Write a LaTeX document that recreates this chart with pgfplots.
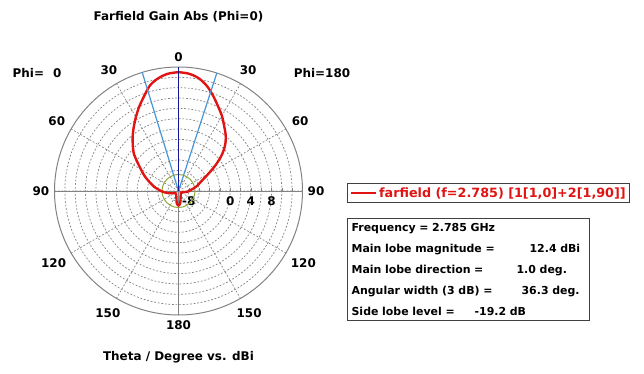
\documentclass[border=0pt]{standalone}
\usepackage{fontspec}
\setmainfont{DejaVu Sans}
\usepackage{pgfplots}
\pgfplotsset{compat=1.18}
\usepgfplotslibrary{polar}
\definecolor{cstred}{RGB}{225,20,20}
\definecolor{cstnavy}{RGB}{20,20,150}
\definecolor{cstlblue}{RGB}{70,150,215}
\definecolor{cstgreen}{RGB}{140,170,60}
\definecolor{gridgray}{RGB}{130,130,130}
\begin{document}
\begin{tikzpicture}
\useasboundingbox (-178.5bp,-183bp) rectangle (465.5bp,191bp);
\begin{polaraxis}[
  at={(0,0)}, anchor=center,
  scale only axis, width=248bp, height=248bp,
  ymin=0, ymax=24,
  xtick={0,30,...,330},
  xticklabels={90,60,30,0,30,60,90,120,150,180,150,120},
  ytick={2,4,...,22},
  yticklabels={-8,{},{},{},0,{},4,{},8,{},{}},
  xticklabel style={font=\fontsize{12}{14}\selectfont\bfseries, inner sep=5bp},
  yticklabel style={font=\fontsize{12}{14}\selectfont\bfseries, anchor=north, yshift=-2bp},
  axis line style={gridgray, line width=1bp},
  grid=major,
  major grid style={gridgray, dash pattern=on 1.8bp off 1.8bp, line width=0.7bp},
  xtick style={draw=none},
  ytick style={gridgray},
  major tick length=3bp,
  legend style={at={(axis description cs:1.18,0.532)}, anchor=north west,
    draw=black!75, line width=1.2bp, font=\fontsize{12.8}{14}\selectfont\bfseries,
    text=cstred, inner sep=2bp},
  legend image code/.code={\draw[#1] (0bp,0bp) -- (25bp,0bp);},
]
\addplot[gridgray, line width=1bp, forget plot] coordinates {(0,24) (180,24)};
\addplot[gridgray, line width=1bp, forget plot] coordinates {(90,24) (270,24)};
\addplot[cstgreen, line width=1bp, smooth, forget plot] coordinates {
(0,3.2)(15,3.2)(30,3.2)(45,3.2)(60,3.2)(75,3.2)(90,3.2)(105,3.2)(120,3.2)(135,3.2)(150,3.2)(165,3.2)
(180,3.2)(195,3.2)(210,3.2)(225,3.2)(240,3.2)(255,3.2)(270,3.2)(285,3.2)(300,3.2)(315,3.2)(330,3.2)(345,3.2)(360,3.2)};
\addplot[cstred, line width=2.4bp, smooth] coordinates {
(90,23.0)(95,22.8)(100,22.2)(105,21.2)(110,19.5)(115,18.0)(120,16.5)(125,15.1)(130,13.8)
(135,12.5)(140,11.3)(145,9.7)(150,8.4)(155,7.4)(160,6.4)(165,5.5)(170,4.8)(175,4.0)
(180,3.4)(185,2.8)(190,2.2)(200,1.3)(215,0.7)(235,0.8)(250,1.2)(262,2.4)(270,2.8)
(278,2.4)(290,1.2)(310,0.7)(330,0.6)(340,0.8)(350,1.2)(355,1.7)(360,2.1)(365,2.4)
(370,3.0)(375,3.7)(380,4.3)(385,5.2)(390,6.7)(395,8.8)(400,11.0)(405,12.8)(410,14.2)
(415,15.4)(420,16.8)(425,18.1)(430,19.6)(435,21.1)(440,22.2)(445,22.8)(450,23.0)};
\addlegendentry{farfield (f=2.785) [1[1,0]+2[1,90]]}
\addplot[cstlblue, line width=1.2bp, forget plot] coordinates {(107,0) (107,24)};
\addplot[cstlblue, line width=1.2bp, forget plot] coordinates {(72,0) (72,24)};
\addplot[cstnavy, line width=1.4bp, forget plot] coordinates {(90,0) (90,24)};
\end{polaraxis}
\begin{scope}[font=\fontsize{12}{14}\selectfont\bfseries]
\node at (0,174bp) {Farfield Gain Abs (Phi=0)};
\node at (-141.5bp,118bp) {Phi=\hspace{9bp}0};
\node at (143.5bp,118bp) {Phi=180};
\node at (0,-166bp) {Theta / Degree vs. dBi};
\end{scope}
\node[draw=black!75, line width=1.2bp, anchor=north west, inner xsep=4bp, inner ysep=5bp,
  text width=234bp, align=left, font=\fontsize{11}{21}\selectfont\bfseries]
  at (168.5bp,-27bp) {%
Frequency = 2.785 GHz\\
\makebox[178bp][l]{Main lobe magnitude =}12.4 dBi\\
\makebox[165bp][l]{Main lobe direction =}1.0 deg.\\
\makebox[170bp][l]{Angular width (3 dB) =}36.3 deg.\\
\makebox[123bp][l]{Side lobe level =}-19.2 dB};
\end{tikzpicture}
\end{document}
